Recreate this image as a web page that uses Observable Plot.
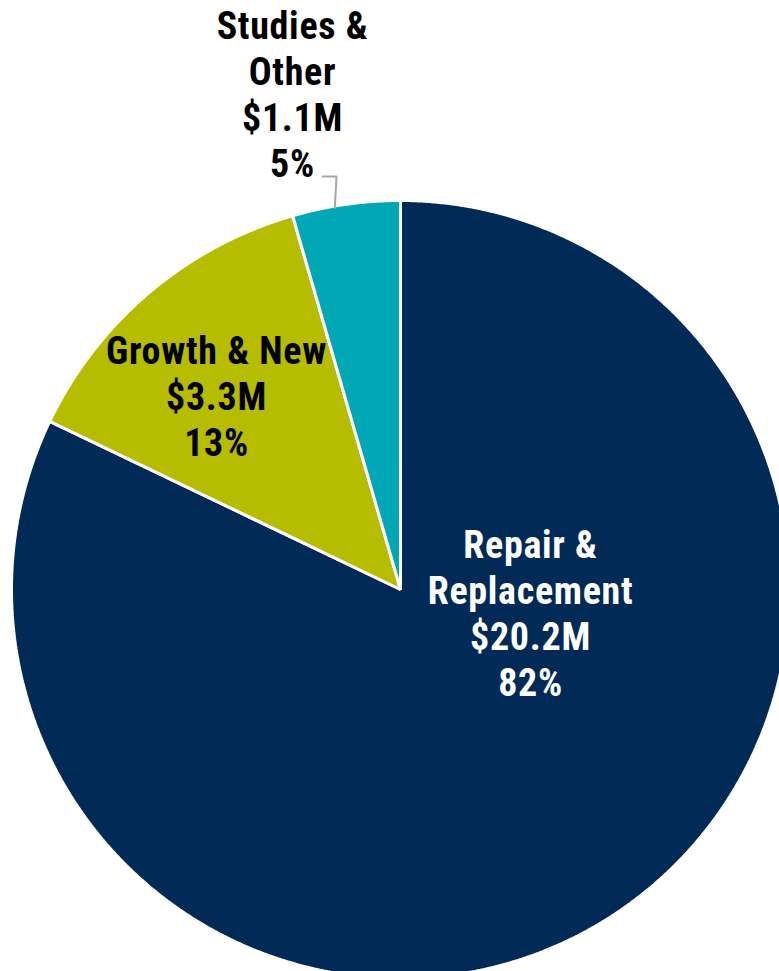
<!DOCTYPE html>
<html><head><meta charset="utf-8">
<script src="https://cdn.jsdelivr.net/npm/d3@7"></script>
<script src="https://cdn.jsdelivr.net/npm/@observablehq/plot@0.6"></script>
<style>
body{margin:0;background:#fff;}
#chart svg{display:block;}
#chart svg text{letter-spacing:0.7px;}
</style>
</head><body><div id="chart"></div>
<script>
// ---- data ----
const categories = ["Repair &\nReplacement", "Growth & New", "Studies &\nOther"];
const amounts = [20.2, 3.3, 1.1];
const amountLabels = ["$20.2M", "$3.3M", "$1.1M"];
const percentLabels = ["82%", "13%", "5%"];
const colors = ["#012a56", "#b6bd00", "#00a8b5"];
const textColors = ["#ffffff", "#000000", "#000000"];

// ---- layout ----
const W = 779, H = 971;
const R = 389, CX = 400, CY = 589;
const toX = px => (px - CX) / R, toY = py => (CY - py) / R;
// label anchors (pixel, last-line baseline)
const labelAnchor = [[530, 695], [216, 455], [292, 176]];

const arcs = d3.pie().sort(null).value(d => d)(amounts);
const polys = [];
arcs.forEach((s, i) => {
  const n = Math.max(2, Math.ceil((s.endAngle - s.startAngle) / 0.005));
  polys.push({cat: categories[i], x: 0, y: 0});
  for (let j = 0; j <= n; j++) {
    const a = s.startAngle + (s.endAngle - s.startAngle) * j / n;
    polys.push({cat: categories[i], x: Math.sin(a), y: Math.cos(a)});
  }
});

const labels = categories.map((c, i) => ({
  text: c + "\n" + amountLabels[i] + "\n" + percentLabels[i],
  x: toX(labelAnchor[i][0]), y: toY(labelAnchor[i][1]), color: textColors[i]
}));

// leader for the small slice
const sArc = arcs[2];
const mid = (sArc.startAngle + sArc.endAngle) / 2 - 0.03;
const leader = [
  {x: toX(322), y: toY(176)},
  {x: toX(336), y: toY(176)},
  {x: Math.sin(mid) * 0.995, y: Math.cos(mid) * 0.995}
];

const font = "'Liberation Sans Narrow', 'Arial Narrow', 'Roboto Condensed', 'Liberation Sans', sans-serif";

const chart = Plot.plot({
  width: W, height: H,
  margin: 0,
  x: {domain: [toX(0), toX(W)], axis: null},
  y: {domain: [toY(H), toY(0)], axis: null},
  color: {domain: categories, range: colors},
  style: {background: "transparent", fontFamily: font},
  marks: [
    Plot.line(polys, {x: "x", y: "y", z: "cat", fill: "cat", stroke: "#ffffff", strokeWidth: 3, strokeLinejoin: "miter", curve: "linear-closed"}),
    Plot.line(leader, {x: "x", y: "y", stroke: "#a6a6a6", strokeWidth: 2}),
    ...labels.map(l => Plot.text([l], {x: "x", y: "y", text: "text", fill: l.color, fontSize: 38, fontWeight: "bold", lineAnchor: "bottom", lineHeight: 1.21, textAnchor: "middle", fontFamily: font}))
  ]
});
document.getElementById("chart").append(chart);
</script>
</body></html>
